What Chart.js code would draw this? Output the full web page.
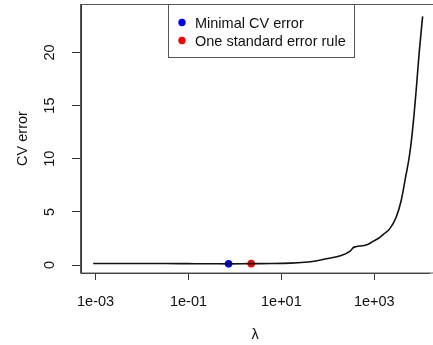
<!DOCTYPE html>
<html>
<head>
<meta charset="utf-8">
<script src="https://cdn.jsdelivr.net/npm/chart.js@4.4.1/dist/chart.umd.min.js"></script>
<style>
  html, body { margin: 0; padding: 0; background: #fff; }
  canvas { display: block; }
</style>
</head>
<body>
<canvas id="graficoCV" width="433" height="345"></canvas>
<script>
// Datos (lambda en escala log)
const lambdas = [0.00089, 0.0032, 0.01, 0.032, 0.1, 0.32, 0.73, 2.24, 6.3, 15.8, 31.6, 50, 100, 186, 302, 355, 398, 692, 955, 1318, 1585, 2138, 2951, 3802, 4677, 5754, 6761, 7943, 9333, 10965];
const cvError = [0.15, 0.15, 0.14, 0.14, 0.13, 0.12, 0.11, 0.13, 0.14, 0.18, 0.26, 0.35, 0.62, 0.88, 1.3, 1.65, 1.72, 1.9, 2.25, 2.6, 2.9, 3.4, 4.5, 6.1, 8.2, 10.4, 13.0, 16.4, 20.2, 23.4];

const lambdaMin = [0.73];
const cvMin = [0.11];
const lambda1se = [2.24];
const cv1se = [0.13];

const xTicks = [1e-3, 1e-1, 1e1, 1e3];
const xTickLabels = ['1e-03', '1e-01', '1e+01', '1e+03'];
const yTicks = [0, 5, 10, 15, 20];
const legendLabels = ['Minimal CV error', 'One standard error rule'];

const fuente = { family: 'Liberation Sans, Arial, sans-serif', size: 14.5 };
const colorEje = '#333';

// Caja del gráfico (como box() en R)
const cajaPlugin = {
  id: 'caja',
  afterDraw(chart) {
    const { ctx, chartArea: a } = chart;
    ctx.save();
    ctx.strokeStyle = '#555';
    ctx.lineWidth = 1;
    ctx.strokeRect(Math.round(a.left) - 0.5, Math.round(a.top) + 0.5, a.right - a.left + 20, Math.round(a.bottom - a.top) - 0.5);
    ctx.restore();
  }
};

// Etiquetas del eje Y giradas (las = 0)
const etiquetasY = {
  id: 'etiquetasY',
  afterDraw(chart) {
    const { ctx } = chart;
    const s = chart.scales.y;
    ctx.save();
    ctx.fillStyle = '#111';
    ctx.font = `${fuente.size}px ${fuente.family}`;
    ctx.textAlign = 'center';
    ctx.textBaseline = 'middle';
    s.ticks.forEach(t => {
      ctx.save();
      ctx.translate(s.left + 50, s.getPixelForValue(t.value));
      ctx.rotate(-Math.PI / 2);
      ctx.fillText(String(t.value), 0, 0);
      ctx.restore();
    });
    ctx.restore();
  }
};

// Leyenda dentro del área
const leyenda = {
  id: 'leyenda',
  afterDraw(chart) {
    const { ctx, chartArea: a } = chart;
    const x0 = 168, y0 = Math.round(a.top) + 0.5, w = 186, h = 53;
    ctx.save();
    ctx.fillStyle = '#fff';
    ctx.fillRect(x0, y0, w, h);
    ctx.strokeStyle = '#555';
    ctx.lineWidth = 1;
    ctx.strokeRect(x0 + 0.5, y0, w, h);
    ctx.font = `${fuente.size}px ${fuente.family}`;
    ctx.textBaseline = 'middle';
    const colores = [chart.data.datasets[1].backgroundColor, chart.data.datasets[2].backgroundColor];
    legendLabels.forEach((txt, i) => {
      const y = y0 + 18 + i * 18;
      ctx.fillStyle = colores[i];
      ctx.beginPath();
      ctx.arc(x0 + 14, y, 3.7, 0, Math.PI * 2);
      ctx.fill();
      ctx.fillStyle = '#111';
      ctx.fillText(txt, x0 + 27, y + 1);
    });
    ctx.restore();
  }
};

new Chart(document.getElementById('graficoCV').getContext('2d'), {
  type: 'line',
  data: {
    datasets: [
      {
        label: 'CV error',
        data: lambdas.map((l, i) => ({ x: l, y: cvError[i] })),
        borderColor: '#111',
        borderWidth: 1.6,
        pointRadius: 0,
        cubicInterpolationMode: 'monotone'
      },
      {
        label: legendLabels[0],
        data: lambdaMin.map((l, i) => ({ x: l, y: cvMin[i] })),
        showLine: false,
        backgroundColor: '#0000ff',
        borderColor: '#0000ff',
        pointRadius: 3.8,
        pointBorderWidth: 0
      },
      {
        label: legendLabels[1],
        data: lambda1se.map((l, i) => ({ x: l, y: cv1se[i] })),
        showLine: false,
        backgroundColor: '#ff0000',
        borderColor: '#ff0000',
        pointRadius: 3.8,
        pointBorderWidth: 0
      }
    ]
  },
  options: {
    responsive: false,
    animation: false,
    devicePixelRatio: 1,
    layout: { padding: { top: 3, right: 0, bottom: 0, left: 0 } },
    plugins: { legend: { display: false }, tooltip: { enabled: false } },
    scales: {
      x: {
        type: 'logarithmic',
        min: Math.pow(10, -3.313),
        max: Math.pow(10, 4.177),
        afterBuildTicks: s => { s.ticks = xTicks.map(v => ({ value: v })); },
        afterFit: s => { s.height = 72; },
        ticks: {
          callback: (v, i) => xTickLabels[i],
          font: fuente,
          color: '#111',
          padding: 13,
          autoSkip: false,
          maxRotation: 0
        },
        grid: { drawOnChartArea: false, tickLength: 7, color: colorEje },
        border: { color: colorEje },
        title: { display: true, text: 'λ', font: fuente, color: '#111', padding: { top: 0, bottom: 1 } }
      },
      y: {
        type: 'linear',
        min: -0.75,
        max: 24.56,
        afterBuildTicks: s => { s.ticks = yTicks.map(v => ({ value: v })); },
        afterFit: s => { s.width = 81; },
        ticks: { display: false },
        grid: { drawOnChartArea: false, tickLength: 9, color: colorEje },
        border: { color: colorEje },
        title: { display: true, text: 'CV error', font: fuente, color: '#111', padding: { top: 14, bottom: 0 } }
      }
    }
  },
  plugins: [cajaPlugin, etiquetasY, leyenda]
});
</script>
</body>
</html>
